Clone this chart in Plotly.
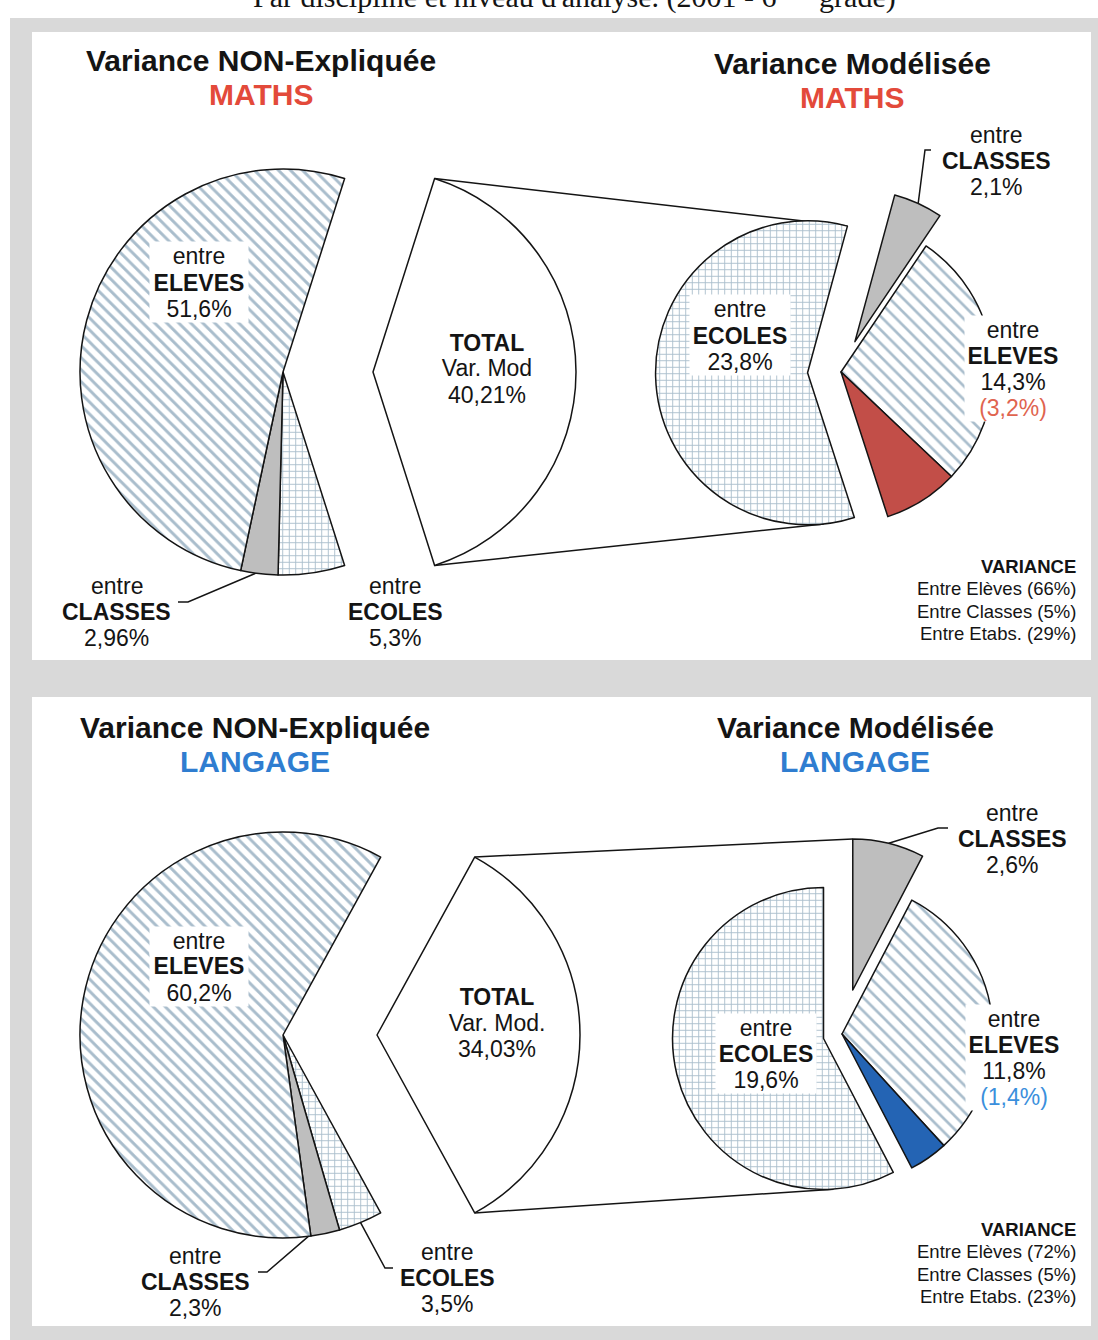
import math
import plotly.graph_objects as go

W, H = 1098, 1340

# ---- values (percent of total variance) ----
maths_unexplained = [51.6, 2.96, 5.3]        # entre ELEVES, CLASSES, ECOLES
maths_total_modelled = 40.21
maths_modelled = [14.3, 2.1, 23.8]           # entre ELEVES, CLASSES, ECOLES
maths_eleves_part = 3.2

langage_unexplained = [60.2, 2.3, 3.5]
langage_total_modelled = 34.03
langage_modelled = [11.8, 2.6, 19.6]
langage_eleves_part = 1.4

variance_names = ["Entre Elèves", "Entre Classes", "Entre Etabs."]
maths_variance_split = [66, 5, 29]
langage_variance_split = [72, 5, 23]

# ---- styling ----
FONT = "Liberation Sans, Arial, sans-serif"
SERIF = "Liberation Serif, Times New Roman, serif"
INK = "#141414"
HATCH = "#a9bdcc"
GREY = "#bebebe"
FRAME = "#d9d9d9"
CLEAR = "rgba(0,0,0,0)"

RED_TITLE, RED_SLICE, RED_TEXT = "#e34a3a", "#c24e48", "#e0644f"
BLUE_TITLE, BLUE_SLICE, BLUE_TEXT = "#2f7dd0", "#2464b4", "#3b8fdc"


def sty(color, shape="", fg=None, size=8, sol=0.3, lw=1.5):
    return dict(color=color, shape=shape, fg=fg or color, size=size, sol=sol, lw=lw)


S_ELEVES = sty("white", "\\", HATCH, 8.5, 0.34)
S_ELEVES_MOD = sty("white", "\\", HATCH, 9.5, 0.28)
S_CLASSES = sty(GREY)
S_ECOLES = sty("white", "+", HATCH, 6.5, 0.26)
S_TOTAL = sty("white")
S_HIDDEN = sty(CLEAR, lw=0)


def pct(v):
    return f"{v:g}".replace(".", ",") + "%"


def polar(cx, cy, r, ang):
    a = math.radians(ang)
    return cx + r * math.sin(a), cy - r * math.cos(a)


fig = go.Figure()


def add_pie(values, names, styles, cx, cy, r, rotation, pulls):
    h = r * (1 + max(pulls))
    fig.add_trace(go.Pie(
        values=values, labels=names, sort=False, direction="clockwise",
        rotation=rotation, pull=pulls, textinfo="none", hoverinfo="label+percent",
        showlegend=False,
        domain=dict(x=[(cx - h) / W, (cx + h) / W], y=[1 - (cy + h) / H, 1 - (cy - h) / H]),
        marker=dict(
            colors=[s["color"] for s in styles],
            line=dict(color=INK, width=[s["lw"] for s in styles]),
            pattern=dict(
                shape=[s["shape"] for s in styles],
                fgcolor=[s["fg"] for s in styles],
                bgcolor=[s["color"] for s in styles],
                size=[s["size"] for s in styles],
                solidity=[s["sol"] for s in styles],
            ),
        ),
    ))
    total = sum(values)
    geo, a = [], rotation
    for v, p in zip(values, pulls):
        span = 360 * v / total
        ox, oy = polar(cx, cy, p * r, a + span / 2)
        geo.append(dict(start=a, stop=a + span, mid=a + span / 2, cx=ox, cy=oy, r=r))
        a += span
    return geo


def tangent_below(px, py, cx, cy, r):
    dx, dy = px - cx, py - cy
    d = math.hypot(dx, dy)
    base = math.atan2(dy, dx)
    off = math.acos(r / d)
    pts = [(cx + r * math.cos(base + s * off), cy + r * math.sin(base + s * off)) for s in (1, -1)]
    return max(pts, key=lambda p: p[1])


def polyline(points, width=1.5):
    fig.add_trace(go.Scatter(
        x=[p[0] for p in points], y=[p[1] for p in points], mode="lines",
        line=dict(color=INK, width=width), hoverinfo="skip", showlegend=False,
    ))


def block(x, y_mid, lines, size=23, gap=26, anchor="center", bg=None, box_w=None, family=FONT):
    y0 = y_mid - gap * (len(lines) - 1) / 2
    for i, line in enumerate(lines):
        kw = {}
        if bg:
            kw = dict(width=box_w, height=gap + 1)
        fig.add_annotation(
            xref="paper", yref="paper", x=x / W, y=1 - (y0 + i * gap) / H,
            text=line, showarrow=False, xanchor=anchor, yanchor="middle", align=anchor,
            font=dict(family=family, size=size, color=INK),
            bgcolor=bg if bg else CLEAR, borderpad=0, **kw,
        )


def col(txt, c):
    return f"<span style='color:{c}'>{txt}</span>"


def panel(subject, subj_colour, unexpl, total_mod, modelled, part, part_fill, part_text,
          split, cy, explode, rc, right_rot, pull_cl, pull_ec, top_to, labels, leaders_left,
          leader_right, legend_x, legend_y):
    el, cl, ec = unexpl
    cx, r = 283, 203
    tot_all = total_mod + sum(unexpl)
    rot = 90 - 180 * total_mod / tot_all

    left = add_pie([total_mod, ec, cl, el],
                   ["TOTAL Var. Mod", "entre ECOLES", "entre CLASSES", "entre ELEVES"],
                   [S_HIDDEN, S_ECOLES, S_CLASSES, S_ELEVES], cx, cy, r, rot, [0, 0, 0, 0])
    tx, ty = polar(cx, cy, explode, left[0]["mid"])
    tot = add_pie([total_mod, tot_all - total_mod], ["TOTAL", "reste"],
                  [S_TOTAL, S_HIDDEN], tx, ty, r, rot, [0, 0])[0]

    m_el, m_cl, m_ec = modelled
    rr = rc[2]
    right = add_pie([m_cl, m_el - part, part, m_ec],
                    ["Mod. entre CLASSES", "Mod. entre ELEVES", "Mod. entre ELEVES (part)",
                     "Mod. entre ECOLES"],
                    [S_CLASSES, S_ELEVES_MOD, sty(part_fill), S_ECOLES],
                    rc[0], rc[1], rr, right_rot, [pull_cl, 0, 0, pull_ec])
    r_cl, r_ec = right[0], right[3]

    # connectors from the exploded total share to the modelled pie
    t_top = polar(tot["cx"], tot["cy"], r, tot["start"])
    t_bot = polar(tot["cx"], tot["cy"], r, tot["stop"])
    if top_to == "ecoles":
        end_top = polar(r_ec["cx"], r_ec["cy"], rr, r_ec["stop"])
    else:
        end_top = polar(r_cl["cx"], r_cl["cy"], rr, r_cl["start"])
    end_bot = tangent_below(t_bot[0], t_bot[1], r_ec["cx"], r_ec["cy"], rr)
    polyline([t_top, end_top])
    polyline([t_bot, end_bot])

    # leader lines
    for pts, g, frac in leaders_left:
        sl = left[g]
        polyline(pts + [polar(sl["cx"], sl["cy"], r * frac, sl["mid"])])
    polyline(leader_right + [polar(r_cl["cx"], r_cl["cy"], rr, r_cl["mid"])])

    # titles
    block(labels["tl"][0], labels["tl"][1],
          ["<b>Variance NON-Expliquée</b>", col(f"<b>{subject}</b>", subj_colour)],
          size=30, gap=34)
    block(labels["tr"][0], labels["tr"][1],
          ["<b>Variance Modélisée</b>", col(f"<b>{subject}</b>", subj_colour)],
          size=30, gap=34)

    # slice labels
    x, y = labels["l_el"]
    block(x, y, ["entre", "<b>ELEVES</b>", pct(el)], bg="white", box_w=98)
    x, y = labels["l_cl"]
    block(x, y, ["entre", "<b>CLASSES</b>", pct(cl)])
    x, y = labels["l_ec"]
    block(x, y, ["entre", "<b>ECOLES</b>", pct(ec)])
    x, y = labels["tot"]
    block(x, y, ["<b>TOTAL</b>", labels["tot_txt"], pct(total_mod)], bg="white", box_w=104)
    x, y = labels["r_ec"]
    block(x, y, ["entre", "<b>ECOLES</b>", pct(m_ec)], bg="white", box_w=100)
    x, y = labels["r_cl"]
    block(x, y, ["entre", "<b>CLASSES</b>", pct(m_cl)])
    x, y = labels["r_el"]
    block(x, y, ["entre", "<b>ELEVES</b>", pct(m_el), col(f"({pct(part)})", part_text)],
          bg="white", box_w=96)

    # variance split note
    lines = ["<b>VARIANCE</b>"] + [f"{n} ({v}%)" for n, v in zip(variance_names, split)]
    block(legend_x, legend_y, lines, size=18.5, gap=22.5, anchor="right")


# ---- background frame and panels ----
fig.add_shape(type="rect", xref="x", yref="y", x0=10, x1=W + 2, y0=18, y1=H + 2,
              fillcolor=FRAME, line_width=0, layer="below")
for y0, y1 in [(32, 660), (697, 1326)]:
    fig.add_shape(type="rect", xref="x", yref="y", x0=32, x1=1091, y0=y0, y1=y1,
                  fillcolor="white", line_width=0, layer="below")

fig.add_annotation(xref="paper", yref="paper", x=574 / W, y=1 + 6 / H, yanchor="middle",
                   showarrow=False,
                   text="Par discipline et niveau d'analyse. (2001 - 6<sup>ème</sup> grade)",
                   font=dict(family=SERIF, size=30, color=INK))

panel("MATHS", RED_TITLE, maths_unexplained, maths_total_modelled, maths_modelled,
      maths_eleves_part, RED_SLICE, RED_TEXT, maths_variance_split,
      cy=372, explode=90, rc=(841, 372, 152), right_rot=15.2, pull_cl=0.22, pull_ec=0.22,
      top_to="ecoles",
      labels=dict(tl=(261, 77), tr=(852, 80), l_el=(199, 282), l_cl=(117, 612),
                  l_ec=(395, 612), tot=(487, 368), tot_txt="Var. Mod", r_ec=(740, 335),
                  r_cl=(996, 161), r_el=(1013, 368)),
      leaders_left=[([(178, 602), (188, 602)], 2, 0.99)],
      leader_right=[(931, 150), (925, 150)],
      legend_x=1077, legend_y=600)

panel("LANGAGE", BLUE_TITLE, langage_unexplained, langage_total_modelled, langage_modelled,
      langage_eleves_part, BLUE_SLICE, BLUE_TEXT, langage_variance_split,
      cy=1035, explode=94, rc=(842, 1034, 151), right_rot=0, pull_cl=0.3, pull_ec=0.126,
      top_to="classes",
      labels=dict(tl=(255, 744), tr=(855, 744), l_el=(199, 966), l_cl=(195, 1282),
                  l_ec=(447, 1278), tot=(497, 1022), tot_txt="Var. Mod.", r_ec=(766, 1053),
                  r_cl=(1012, 839), r_el=(1014, 1057)),
      leaders_left=[([(258, 1272), (267, 1272)], 2, 0.95), ([(393, 1268), (385, 1268)], 1, 1.0)],
      leader_right=[(948, 828), (938, 828)],
      legend_x=1077, legend_y=1263)

fig.update_layout(
    width=W, height=H, margin=dict(l=0, r=0, t=0, b=0),
    paper_bgcolor="white", plot_bgcolor=CLEAR, showlegend=False,
    xaxis=dict(range=[0, W], visible=False, fixedrange=True, domain=[0, 1]),
    yaxis=dict(range=[H, 0], visible=False, fixedrange=True, domain=[0, 1]),
)

fig.write_html("out.html")
